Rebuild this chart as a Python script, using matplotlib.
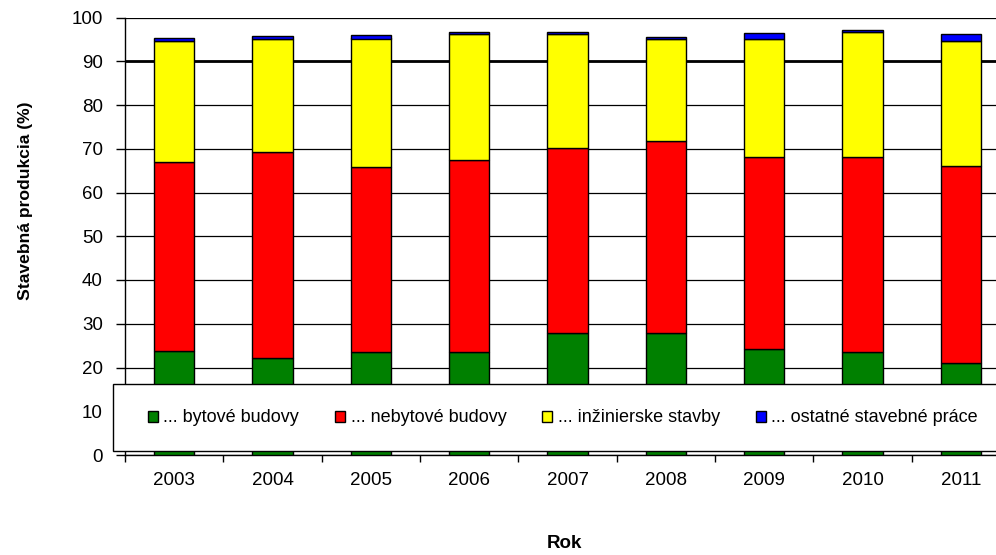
import numpy as np
import matplotlib
matplotlib.use('Agg')
import matplotlib.pyplot as plt
from matplotlib.patches import Rectangle

plt.rcParams['font.family'] = ['Liberation Sans', 'DejaVu Sans']

years = ['2003', '2004', '2005', '2006', '2007', '2008', '2009', '2010', '2011']
bytove = [23.8, 22.2, 23.5, 23.6, 27.8, 27.8, 24.2, 23.5, 21.0]
nebytove = [43.1, 47.1, 42.3, 43.8, 42.4, 43.9, 43.9, 44.6, 45.1]
inzinierske = [27.7, 25.7, 29.4, 28.8, 26.0, 23.5, 27.1, 28.5, 28.6]
ostatne = [0.8, 0.7, 0.7, 0.6, 0.4, 0.4, 1.2, 0.5, 1.6]

labels = ['... bytové budovy', '... nebytové budovy', '... inžinierske stavby', '... ostatné stavebné práce']
colours = ['#008000', '#ff0000', '#ffff00', '#0000ff']

fig = plt.figure(figsize=(9.96, 5.55), dpi=100)
ax = fig.add_axes([125 / 996, 1 - 455 / 555, 885 / 996, 437.5 / 555])

x = np.arange(len(years))
bottom = np.zeros(len(years))
bars = []
for vals, col, lab in zip([bytove, nebytove, inzinierske, ostatne], colours, labels):
    b = ax.bar(x, vals, 0.41, bottom=bottom, color=col, edgecolor='black', linewidth=1, label=lab, zorder=3)
    bars.append(b)
    bottom += np.array(vals)

ax.set_xlim(-0.5, 8.5)
ax.set_ylim(0, 100)
ax.set_yticks(np.arange(0, 101, 10))
ax.yaxis.grid(True, color='black', linewidth=0.9, zorder=0)
ax.axhline(90, color='black', linewidth=2, zorder=1)
ax.set_axisbelow(True)

ax.set_xticks(x)
ax.set_xticklabels(years)
ax.set_xticks(np.arange(-0.5, 9, 1), minor=True)
ax.tick_params(axis='x', which='major', length=0, pad=12, labelsize=13.5)
ax.tick_params(axis='x', which='minor', length=5, width=1, direction='out')
ax.tick_params(axis='y', length=6.5, width=1, direction='out', pad=9.5, labelsize=13.5)

ax.spines['top'].set_visible(False)
ax.spines['right'].set_visible(False)
for s in ['left', 'bottom']:
    ax.spines[s].set_color('black')
    ax.spines[s].set_linewidth(1)

fig.text(26 / 996, 1 - 201 / 555, 'Stavebná produkcia (%)', rotation=90, ha='center', va='center',
         fontsize=12.6, fontweight='bold')
fig.text(564 / 996, 1 - 544 / 555, 'Rok', ha='center', va='center', fontsize=13.5, fontweight='bold')

# white legend box over the lower part of the bars
box = Rectangle((113 / 996, 1 - 451 / 555), 0.95, 67 / 555, transform=fig.transFigure,
                facecolor='white', edgecolor='black', linewidth=1, zorder=5, clip_on=False)
fig.patches.append(box)

leg = fig.legend(handles=[b.patches[0] for b in bars], labels=labels, ncol=4,
                 loc='center left', bbox_to_anchor=(148 / 996, 1 - 418 / 555),
                 frameon=False, fontsize=13, handlelength=0.55, handleheight=0.55,
                 handletextpad=0.3, columnspacing=2.0, borderpad=0, borderaxespad=0)
leg.set_zorder(6)

fig.savefig('out.png', dpi=100)
